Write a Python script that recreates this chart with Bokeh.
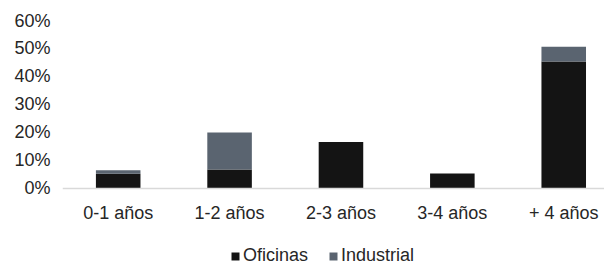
from bokeh.plotting import figure
from bokeh.models import ColumnDataSource, Range1d, FixedTicker, PrintfTickFormatter, Legend, LegendItem
from bokeh.embed import file_html
from bokeh.resources import INLINE

categories = ["0-1 años", "1-2 años", "2-3 años", "3-4 años", "+ 4 años"]
oficinas = [5.3, 6.8, 16.6, 5.4, 45.4]
industrial = [1.2, 13.2, 0.0, 0.0, 5.2]
y_ticks = [0, 10, 20, 30, 40, 50, 60]

series_names = ["Oficinas", "Industrial"]
series_colors = ["#141414", "#5a6470"]

xs = [i + 0.5 for i in range(len(categories))]
source = ColumnDataSource(data=dict(x=xs, Oficinas=oficinas, Industrial=industrial))

# frame extends below the zero line to host the category labels and legend
p = figure(frame_width=542, frame_height=246, output_backend="svg", toolbar_location=None,
           x_range=Range1d(0, 4.866), y_range=Range1d(-27.86, 60),
           min_border_left=62, min_border_right=0, min_border_top=20, min_border_bottom=0)
p.outline_line_color = None
p.xgrid.grid_line_color = None
p.ygrid.grid_line_color = None

renderers = p.vbar_stack(series_names, x="x", width=0.4, source=source,
                         color=series_colors, line_color=None)

font = "Liberation Sans"
p.yaxis.ticker = FixedTicker(ticks=y_ticks)
p.yaxis.formatter = PrintfTickFormatter(format="%d%%")
p.yaxis.axis_line_color = None
p.yaxis.major_tick_line_color = None
p.yaxis.major_tick_out = 0
p.yaxis.minor_tick_out = 0
p.yaxis.minor_tick_line_color = None
p.yaxis.major_label_standoff = 12
p.yaxis.major_label_text_font = font
p.yaxis.major_label_text_font_size = "18px"
p.yaxis.major_label_text_color = "#262626"

p.xaxis.fixed_location = 0
p.xaxis.ticker = FixedTicker(ticks=xs)
p.xaxis.major_label_overrides = {x: c for x, c in zip(xs, categories)}
p.xaxis.axis_line_color = "#d9d9d9"
p.xaxis.axis_line_width = 1.5
p.xaxis.major_tick_line_color = None
p.xaxis.minor_tick_line_color = None
p.xaxis.major_tick_out = 0
p.xaxis.minor_tick_out = 0
p.xaxis.major_label_standoff = 15
p.xaxis.major_label_text_font = font
p.xaxis.major_label_text_font_size = "18px"
p.xaxis.major_label_text_color = "#262626"

legend = Legend(items=[LegendItem(label=n, renderers=[r]) for n, r in zip(series_names, renderers)],
                location=(168, 0), orientation="horizontal",
                glyph_width=10, glyph_height=10, label_standoff=3, spacing=20,
                padding=0, margin=0, border_line_color=None, background_fill_alpha=0,
                label_text_font=font, label_text_font_size="18px", label_text_color="#262626")
p.add_layout(legend, "center")

open("out.html", "w").write(file_html(p, INLINE))
